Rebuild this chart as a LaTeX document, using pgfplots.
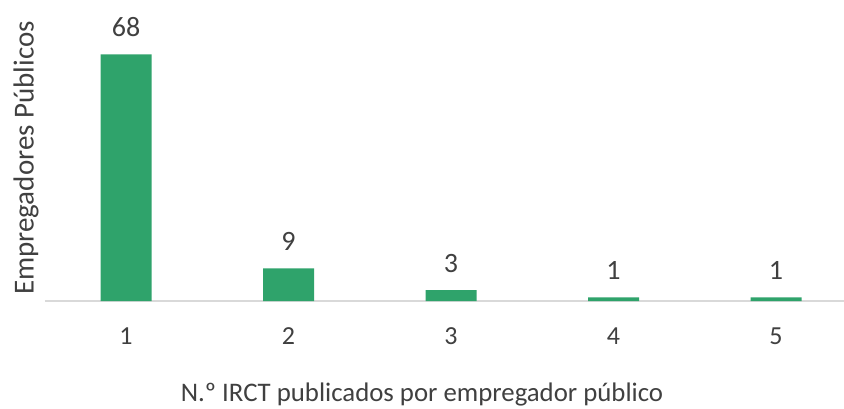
\documentclass[border=0pt]{standalone}
\usepackage{pgfplots}
\pgfplotsset{compat=1.18}
\usepackage{fontspec}
\setmainfont{Carlito}
\definecolor{barg}{RGB}{47,163,107}
\definecolor{txt}{RGB}{64,64,64}
\definecolor{axgray}{RGB}{217,217,217}
\begin{document}
\begin{tikzpicture}[x=1pt,y=1pt]
\begin{axis}[
  at={(44.75pt,107pt)}, anchor=south west,
  scale only axis, width=812.5pt, height=272pt,
  xmin=0.5, xmax=5.5, ymin=0, ymax=75,
  axis x line*=bottom,
  axis y line*=left,
  x axis line style={draw=axgray, line width=1.3pt, -},
  y axis line style={draw=none},
  ytick=\empty,
  xtick={1,2,3,4,5},
  major tick length=0pt,
  /pgf/number format/assume math mode=true,
  xticklabel style={anchor=base, yshift=-43pt, font=\fontsize{26}{31}\selectfont, text=txt},
  ybar, bar width=51pt,
  nodes near coords,
  nodes near coords style={anchor=base, yshift=18pt, font=\fontsize{28}{33}\selectfont, text=txt},
  xlabel={N.º IRCT publicados por empregador público},
  xlabel style={at={(axis description cs:0.4643,-0.3713)}, anchor=base, font=\fontsize{26.8}{31}\selectfont, text=txt},
  ylabel={Empregadores Públicos},
  ylabel style={at={(axis description cs:-0.0136,0.5257)}, anchor=base, font=\fontsize{29}{34}\selectfont, text=txt},
  clip=false,
]
\addplot[fill=barg, draw=none] coordinates {(1,68) (2,9) (3,3) (4,1) (5,1)};
\end{axis}
\pgfresetboundingbox
\path[use as bounding box] (0,0) rectangle (844,408);
\end{tikzpicture}
\end{document}
